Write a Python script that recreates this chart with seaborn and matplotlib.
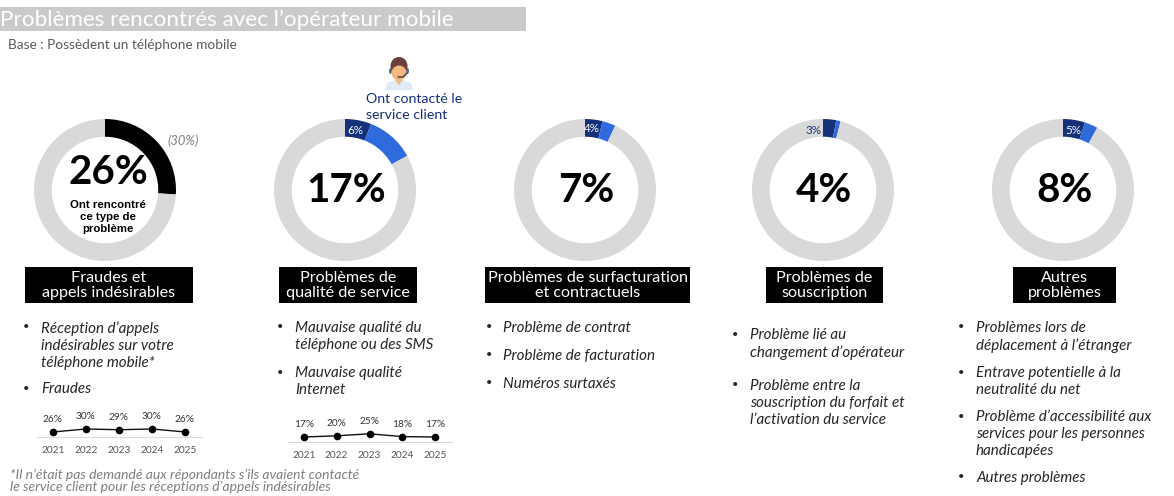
import matplotlib
matplotlib.use("Agg")
import matplotlib.pyplot as plt
from matplotlib.patches import Ellipse, Rectangle, Polygon
import pandas as pd
import seaborn as sns

sns.set_theme(style="white")
plt.rcParams["font.family"] = ["Lato", "DejaVu Sans"]

# Data
totals = [26, 17, 7, 4, 8]
contacted = [None, 6, 4, 3, 5]
previous_label = "(30%)"
headers = [
    "Fraudes et\nappels indésirables",
    "Problèmes de\nqualité de service",
    "Problèmes de surfacturation\net contractuels",
    "Problèmes de\nsouscription",
    "Autres\nproblèmes",
]
bullets = [
    ["Réception d’appels\nindésirables sur votre\ntéléphone mobile*", "Fraudes"],
    ["Mauvaise qualité du\ntéléphone ou des SMS", "Mauvaise qualité\nInternet"],
    ["Problème de contrat", "Problème de facturation", "Numéros surtaxés"],
    ["Problème lié au\nchangement d’opérateur",
     "Problème entre la\nsouscription du forfait et\nl’activation du service"],
    ["Problèmes lors de\ndéplacement à l’étranger",
     "Entrave potentielle à la\nneutralité du net",
     "Problème d’accessibilité aux\nservices pour les personnes\nhandicapées",
     "Autres problèmes"],
]
years = [2021, 2022, 2023, 2024, 2025]
trend_fraud = [26, 30, 29, 30, 26]
trend_quality = [17, 20, 25, 18, 17]

# Layout in pixels
W, H = 1174, 496
centers = [105, 345, 585, 823, 1063]
cy, radius = 190, 71
box_spans = [(25, 193), (279, 417), (485, 690), (766, 883), (1013, 1116)]
bullet_x = [(26, 41), (280, 295), (489, 503), (735, 750), (961, 976)]
bullet_y = [[327, 388], [327, 372], [327, 355, 383], [334, 385], [327, 372, 416, 477]]

BLACK = "#000000"
GREY = "#d9d9d9"
DARK = "#14317a"
BLUE = "#2f6bdc"
TEXT = "#262626"


def px_axes(fig, x0, y0, x1, y1, **kw):
    return fig.add_axes([x0 / W, 1 - y1 / H, (x1 - x0) / W, (y1 - y0) / H], **kw)


def donut(fig, cx, total, part):
    ax = px_axes(fig, cx - radius, cy - radius, cx + radius, cy + radius)
    if part is None:
        values, colors = [total, 100 - total], [BLACK, GREY]
    else:
        values, colors = [part, total - part, 100 - total], [DARK, BLUE, GREY]
    ax.pie(values, colors=colors, startangle=90, counterclock=False, radius=1,
           wedgeprops=dict(width=0.25, linewidth=0))
    ax.set_xlim(-1, 1)
    ax.set_ylim(-1, 1)
    ax.set_aspect("equal")
    ax.axis("off")


def trend(fig, x0, x1, y0, y1, values, ymin, ymax):
    ax = px_axes(fig, x0, y0, x1, y1)
    ax.patch.set_alpha(0)
    df = pd.DataFrame({"annee": years, "valeur": values})
    sns.lineplot(data=df, x="annee", y="valeur", ax=ax, color="#111111", linewidth=1,
                 marker="o", markersize=5.5, markeredgewidth=0, markerfacecolor="black")
    ax.set_xlim(2021 - 16 / 33, 2025 + 17 / 33)
    ax.set_ylim(ymin, ymax)
    ax.set_xlabel("")
    ax.set_ylabel("")
    ax.set_yticks([])
    ax.set_xticks(years)
    ax.set_xticklabels(years, fontsize=7.3, color="#555555")
    ax.tick_params(axis="x", length=0, pad=6.5)
    for s in ["top", "left", "right"]:
        ax.spines[s].set_visible(False)
    ax.spines["bottom"].set_color("#d9d9d9")
    ax.spines["bottom"].set_linewidth(0.8)
    for yr, v in zip(years, values):
        ax.annotate(f"{v}%", (yr, v), xytext=(0, 5.8), textcoords="offset points",
                    ha="center", va="bottom", fontsize=7.3, color="#333333")


fig = plt.figure(figsize=(W / 100, H / 100), dpi=100, facecolor="white")

for cx, t, p in zip(centers, totals, contacted):
    donut(fig, cx, t, p)

trend(fig, 37, 202, 410, 437, trend_fraud, 19.3, 55.3)
trend(fig, 288, 452, 415, 442, trend_quality, 4.5, 72)

# Overlay for texts and shapes, in pixel coordinates
ov = px_axes(fig, 0, 0, W, H, zorder=5)
ov.set_xlim(0, W)
ov.set_ylim(H, 0)
ov.axis("off")
ov.patch.set_alpha(0)

ov.add_patch(Rectangle((0, 7), 526, 24, color="#c9cacc", lw=0))
ov.text(0, 19.5, "Problèmes rencontrés avec l’opérateur mobile", color="white",
        fontsize=16.2, va="center", ha="left")
ov.text(8, 45, "Base : Possèdent un téléphone mobile", color="#595959", fontsize=9.8,
        va="center")

# Center values
ov.text(108, 172, f"{totals[0]}%", fontsize=29, fontweight="bold", color="black",
        ha="center", va="center")
ov.text(108, 217, "Ont rencontré\nce type de\nproblème", fontsize=8.2, fontweight="bold",
        family="Liberation Sans", color="black", ha="center", va="center", linespacing=1.25)
for cx, t in zip(centers[1:], totals[1:]):
    ov.text(cx + 1, 191, f"{t}%", fontsize=29, fontweight="bold", color="black",
            ha="center", va="center")
ov.text(183.5, 141, previous_label, fontsize=9.3, style="italic", color="#808080",
        ha="center", va="center")

# Labels on the rings
ov.text(355, 130, f"{contacted[1]}%", fontsize=8.4, color="white", ha="center", va="center")
ov.text(592, 129, f"{contacted[2]}%", fontsize=8.4, color="white", ha="center", va="center")
ov.text(814, 130, f"{contacted[3]}%", fontsize=8.4, color=DARK, ha="center", va="center")
ov.text(1073, 130, f"{contacted[4]}%", fontsize=8.4, color="white", ha="center", va="center")

# Service client icon
ov.add_patch(Polygon([[385, 90], [387, 83], [395, 80], [403, 80], [411, 83], [413, 90]],
                     closed=True, color="#e1ebf6", lw=0))
ov.add_patch(Polygon([[395, 80], [399, 85], [403, 80]], closed=True, color="#f2b882", lw=0))
ov.add_patch(Ellipse((390.5, 71), 3, 6, color="#5a6b80", lw=0))
ov.add_patch(Ellipse((407.5, 71), 3, 6, color="#5a6b80", lw=0))
ov.add_patch(Ellipse((399, 66), 17, 18, color="#6b3f3a", lw=0))
ov.add_patch(Ellipse((399, 73), 15, 15, color="#f2b882", lw=0))
ov.plot([407, 403, 398], [73, 77, 77], color="#3b3b3b", lw=1)
ov.text(366, 99, "Ont contacté le", fontsize=10.2, color=DARK, va="center")
ov.text(366, 115, "service client", fontsize=10.2, color=DARK, va="center")

# Black headers
for (x0, x1), label, cx in zip(box_spans, headers, centers):
    ov.add_patch(Rectangle((x0, 267), x1 - x0, 36, color="black", lw=0))
    ov.text((x0 + x1) / 2, 285.5, label, color="white", fontsize=11.6, ha="center",
            va="center", linespacing=1.1)

# Bullet lists
for (bx, tx), ys, items in zip(bullet_x, bullet_y, bullets):
    for y, item in zip(ys, items):
        ov.text(bx, y, "•", fontsize=8, color=TEXT, ha="center", va="center")
        ov.text(tx, y - 6, item, fontsize=10.9, style="italic", color=TEXT, va="top",
                linespacing=1.29)

ov.text(10, 475, "*Il n’était pas demandé aux répondants s’ils avaient contacté",
        fontsize=10, style="italic", color="#7f7f7f", va="center")
ov.text(10, 487, "le service client pour les réceptions d’appels indésirables",
        fontsize=10, style="italic", color="#7f7f7f", va="center")

fig.savefig("out.png", dpi=100)
